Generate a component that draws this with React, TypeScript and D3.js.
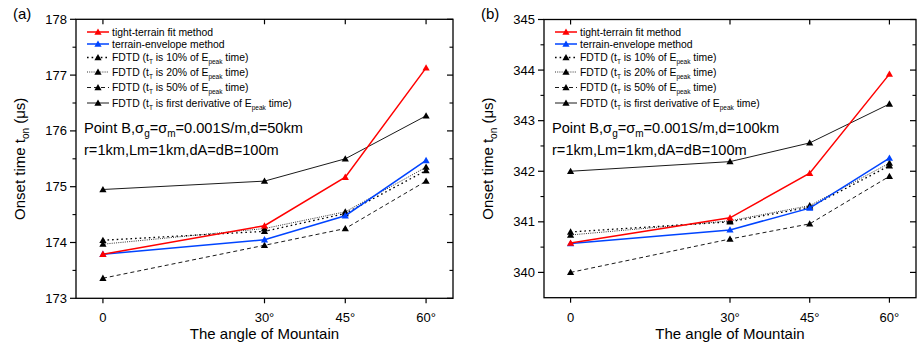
import React from "react";
import * as d3 from "d3";

const categories = [0, 30, 45, 60];
const tickLabels = ["0", "30°", "45°", "60°"];

// Panel (a): d = 50 km
const aTight = [173.79, 174.3, 175.17, 177.13];
const aEnvelope = [173.79, 174.05, 174.48, 175.47];
const aFdtd10 = [174.04, 174.2, 174.52, 175.29];
const aFdtd20 = [173.97, 174.25, 174.55, 175.35];
const aFdtd50 = [173.36, 173.95, 174.25, 175.1];
const aFdtdDeriv = [174.95, 175.1, 175.5, 176.27];
const aYTicks = [173, 174, 175, 176, 177, 178];

// Panel (b): d = 100 km
const bTight = [340.58, 341.08, 341.96, 343.92];
const bEnvelope = [340.57, 340.84, 341.27, 342.26];
const bFdtd10 = [340.8, 341.0, 341.29, 342.11];
const bFdtd20 = [340.74, 341.02, 341.32, 342.16];
const bFdtd50 = [340.0, 340.66, 340.96, 341.9];
const bFdtdDeriv = [342.0, 342.19, 342.56, 343.33];
const bYTicks = [340, 341, 342, 343, 344, 345];

type Style = { color: string; width: number; dash?: string };
const styles: Style[] = [
  { color: "#ff0000", width: 1.5 },
  { color: "#0044ff", width: 1.5 },
  { color: "#000", width: 1.3, dash: "1.6,3" },
  { color: "#000", width: 0.8, dash: "1,1.2" },
  { color: "#000", width: 0.9, dash: "4,3" },
  { color: "#000", width: 0.9 },
];

const FONT = "Liberation Sans, Arial, Helvetica, sans-serif";

function Tri({ x, y, color }: { x: number; y: number; color: string }) {
  const s = 3.6;
  return (
    <path
      d={`M${x},${y - s} L${x + s},${y + s * 0.75} L${x - s},${y + s * 0.75} Z`}
      fill={color}
    />
  );
}

function LegendText({ idx }: { idx: number }) {
  if (idx === 0) return <>tight-terrain fit method</>;
  if (idx === 1) return <>terrain-envelope method</>;
  const mid = ["is 10% of E", "is 20% of E", "is 50% of E", "is first derivative of E"][idx - 2];
  return (
    <>
      <tspan>FDTD (t</tspan>
      <tspan dy={3} fontSize={6.5}>T</tspan>
      <tspan dy={-3}>{" " + mid}</tspan>
      <tspan dy={3} fontSize={6.5}>peak</tspan>
      <tspan dy={-3}> time)</tspan>
    </>
  );
}

function Panel(props: {
  label: string;
  x0: number;
  x1: number;
  y0: number;
  y1: number;
  yDomain: [number, number];
  yTicks: number[];
  series: number[][];
  dist: string;
}) {
  const { label, x0, x1, y0, y1, yDomain, yTicks, series, dist } = props;
  const x = d3.scaleLinear().domain([-5, 65]).range([x0, x1]);
  const y = d3.scaleLinear().domain(yDomain).range([y1, y0]);
  const line = d3
    .line<number>()
    .x((_, i) => x(categories[i]))
    .y((v) => y(v));
  const minor = yTicks.slice(0, -1).map((t) => t + 0.5).filter((t) => t > yDomain[0] && t < yDomain[1]);
  const allMinor = yDomain[0] < yTicks[0] - 0.5 ? [yTicks[0] - 0.5, ...minor] : minor;
  const legendY = [32, 44, 57.5, 72, 87.5, 103];
  const lx = x0 + 11;
  const order = [0, 1, 2, 3, 4, 5];
  return (
    <g fontFamily={FONT}>
      <text x={x0 - 63} y={19} fontSize={15}>{label}</text>
      {/* series */}
      {[...order].reverse().map((si) => (
        <g key={si}>
          <path
            d={line(series[si]) || ""}
            fill="none"
            stroke={styles[si].color}
            strokeWidth={styles[si].width}
            strokeDasharray={styles[si].dash}
          />
          {series[si].map((v, i) => (
            <Tri key={i} x={x(categories[i])} y={y(v)} color={si < 2 ? styles[si].color : "#000"} />
          ))}
        </g>
      ))}
      {/* frame */}
      <rect x={x0} y={y0} width={x1 - x0} height={y1 - y0} fill="none" stroke="#000" strokeWidth={1.3} />
      {/* y ticks */}
      {yTicks.map((t) => (
        <g key={t}>
          <line x1={x0 - 6} x2={x0} y1={y(t)} y2={y(t)} stroke="#000" strokeWidth={1.2} />
          <line x1={x1 - 6} x2={x1} y1={y(t)} y2={y(t)} stroke="#000" strokeWidth={1.2} />
          <text x={x0 - 9} y={y(t) + 4.5} fontSize={13} textAnchor="end">{t}</text>
        </g>
      ))}
      {allMinor.map((t) => (
        <g key={"m" + t}>
          <line x1={x0 - 3.5} x2={x0} y1={y(t)} y2={y(t)} stroke="#000" strokeWidth={1.1} />
          <line x1={x1 - 3.5} x2={x1} y1={y(t)} y2={y(t)} stroke="#000" strokeWidth={1.1} />
        </g>
      ))}
      {/* x ticks */}
      {categories.map((c, i) => (
        <g key={c}>
          <line x1={x(c)} x2={x(c)} y1={y1} y2={y1 + 5} stroke="#000" strokeWidth={1.2} />
          <line x1={x(c)} x2={x(c)} y1={y0} y2={y0 + 5} stroke="#000" strokeWidth={1.2} />
          <text x={x(c)} y={y1 + 24} fontSize={13} textAnchor="middle">{tickLabels[i]}</text>
        </g>
      ))}
      {/* axis titles */}
      <text x={(x0 + x1) / 2} y={y1 + 41} fontSize={15} textAnchor="middle">The angle of Mountain</text>
      <text
        transform={`translate(${x0 - 51},${(y0 + y1) / 2}) rotate(-90)`}
        fontSize={15}
        textAnchor="middle"
      >
        <tspan>Onset time t</tspan>
        <tspan dy={4} fontSize={10}>on</tspan>
        <tspan dy={-4}>{"  (μs)"}</tspan>
      </text>
      {/* legend */}
      {order.map((si, k) => (
        <g key={"lg" + si}>
          <line
            x1={lx}
            x2={lx + 22}
            y1={legendY[k]}
            y2={legendY[k]}
            stroke={styles[si].color}
            strokeWidth={styles[si].width}
            strokeDasharray={styles[si].dash}
          />
          <Tri x={lx + 11} y={legendY[k]} color={si < 2 ? styles[si].color : "#000"} />
          <text x={lx + 25} y={legendY[k] + 3.5} fontSize={10.4}>
            <LegendText idx={si} />
          </text>
        </g>
      ))}
      {/* annotation */}
      <text x={x0 + 8} y={133} fontSize={14.6}>
        <tspan>Point B,σ</tspan>
        <tspan dy={4} fontSize={10}>g</tspan>
        <tspan dy={-4}>=σ</tspan>
        <tspan dy={4} fontSize={10}>m</tspan>
        <tspan dy={-4}>{"=0.001S/m,d=" + dist}</tspan>
      </text>
      <text x={x0 + 8} y={155} fontSize={14.6}>r=1km,Lm=1km,dA=dB=100m</text>
    </g>
  );
}

export default function App() {
  return (
    <svg
      width={922}
      height={349}
      style={{ position: "absolute", left: 0, top: 0, background: "#fff" }}
    >
      <rect width={922} height={349} fill="#fff" />
      <Panel
        label="(a)"
        x0={76}
        x1={453}
        y0={19.3}
        y1={298.3}
        yDomain={[173, 178]}
        yTicks={aYTicks}
        series={[aTight, aEnvelope, aFdtd10, aFdtd20, aFdtd50, aFdtdDeriv]}
        dist="50km"
      />
      <Panel
        label="(b)"
        x0={544}
        x1={916}
        y0={19.5}
        y1={297.7}
        yDomain={[339.5, 345]}
        yTicks={bYTicks}
        series={[bTight, bEnvelope, bFdtd10, bFdtd20, bFdtd50, bFdtdDeriv]}
        dist="100km"
      />
    </svg>
  );
}
